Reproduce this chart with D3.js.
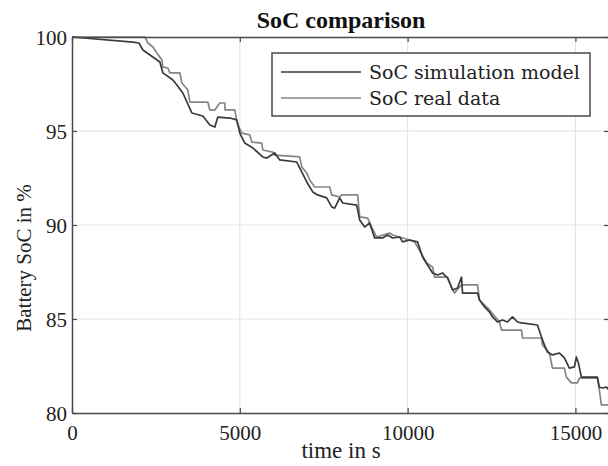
<!DOCTYPE html>
<html>
<head>
<meta charset="utf-8">
<script src="https://cdn.jsdelivr.net/npm/d3@7"></script>
<style>
  body { margin: 0; background: #fff; }
  svg { display: block; font-family: "Liberation Serif", "Times New Roman", serif; }
</style>
</head>
<body>
<svg width="608" height="466"></svg>
<script>
// ---- data ----
const simTime = [0, 1815, 1994, 2113, 2619, 2708, 3006, 3125, 3303, 3571, 3899, 4107, 4256, 4345, 4702, 4910,
  5000, 5148, 5387, 5684, 5803, 6041, 6190, 6696, 6845, 6994, 7172, 7321, 7589, 7738, 7827, 7976, 8065, 8482,
  8571, 8720, 8868, 9017, 9255, 9404, 9553, 9761, 9851, 10059, 10297, 10356, 10446, 10595, 10743, 10892, 11041,
  11190, 11339, 11487, 11606, 11636, 12083, 12142, 12291, 12440, 12529, 12678, 12827, 12975, 13124, 13273, 13392,
  13868, 13987, 14076, 14166, 14315, 14523, 14672, 14820, 14969, 15029, 15088, 15178, 15654, 15713, 15803, 15922, 16000];
const simSoc = [100, 99.73, 99.68, 99.31, 98.67, 98.09, 97.71, 97.45, 97.02, 95.96, 95.80, 95.32, 95.21, 95.74, 95.69, 95.59,
  94.89, 94.36, 94.10, 93.62, 93.56, 93.83, 93.46, 93.35, 92.82, 92.29, 91.76, 91.60, 91.44, 90.96, 90.90, 91.44, 91.17, 91.06,
  90.27, 89.89, 90.11, 89.31, 89.31, 89.47, 89.31, 89.36, 89.10, 89.20, 89.10, 88.78, 88.30, 87.87, 87.45, 87.34, 87.45,
  87.18, 86.54, 86.65, 87.23, 86.38, 86.38, 86.01, 85.64, 85.37, 85.11, 84.84, 84.95, 84.84, 85.11, 84.84, 84.79,
  84.68, 84.04, 83.62, 83.24, 83.09, 83.19, 82.93, 82.39, 82.45, 82.98, 82.66, 81.91, 81.91, 81.38, 81.33, 81.38, 81.22];

const realTime = [0, 2113, 2172, 2262, 2411, 2530, 2678, 2708, 2857, 2916, 3214, 3274, 3452, 3512, 4047, 4107, 4256,
  4404, 4553, 4560, 4851, 4910, 5059, 5297, 5357, 5654, 5684, 5982, 6041, 6785, 6845, 6994, 7083, 7232, 7678, 7738,
  7976, 8035, 8511, 8571, 8809, 8928, 9077, 9464, 9553, 10059, 10208, 10297, 10565, 10743, 10803, 11190, 11309, 11398,
  11547, 11606, 12083, 12142, 12440, 12737, 12797, 13392, 13422, 13987, 14017, 14225, 14315, 14672, 14731, 14880,
  15059, 15118, 15654, 15713, 15773, 16000];
const realSoc = [100, 100, 100, 99.68, 99.47, 99.15, 98.78, 98.40, 98.35, 98.09, 98.09, 97.55, 97.18, 96.54, 96.54, 96.12, 96.12,
  96.49, 96.49, 96.12, 96.12, 95.48, 94.89, 94.79, 94.41, 94.36, 93.99, 93.88, 93.72, 93.62, 93.09, 92.77, 92.39, 92.02, 92.02, 91.60,
  91.49, 91.60, 91.60, 90.43, 90.37, 89.89, 89.36, 89.57, 89.47, 89.20, 89.10, 88.83, 87.98, 87.77, 87.23, 87.23, 86.70, 86.38,
  86.70, 86.81, 86.81, 86.01, 85.48, 84.84, 84.41, 84.41, 83.99, 83.99, 83.62, 83.19, 82.39, 82.39, 81.91, 81.60,
  81.60, 81.86, 81.86, 81.22, 80.43, 80.43];

const xTicks = [0, 5000, 10000, 15000];
const yTicks = [80, 85, 90, 95, 100];
const seriesNames = ["SoC simulation model", "SoC real data"];
const seriesColors = ["#3a3a3a", "#858585"];

// ---- layout ----
const svg = d3.select("svg");
const mLeft = 72, mRight = 609, mTop = 37, mBottom = 413;

const x = d3.scaleLinear().domain([0, 16000]).range([mLeft, mRight]);
const y = d3.scaleLinear().domain([80, 100]).range([mBottom, mTop]);

// grid
svg.append("g").selectAll("line").data(xTicks.slice(1)).enter().append("line")
  .attr("x1", d => x(d)).attr("x2", d => x(d)).attr("y1", mTop).attr("y2", mBottom)
  .attr("stroke", "#e2e2e2").attr("stroke-width", 1);
svg.append("g").selectAll("line").data(yTicks.slice(1, -1)).enter().append("line")
  .attr("x1", mLeft).attr("x2", mRight).attr("y1", d => y(d)).attr("y2", d => y(d))
  .attr("stroke", "#e2e2e2").attr("stroke-width", 1);

// series
const series = [
  simTime.map((t, i) => [t, simSoc[i]]),
  realTime.map((t, i) => [t, realSoc[i]])
];
const line = d3.line().x(d => x(d[0])).y(d => y(d[1]));

svg.append("defs").append("clipPath").attr("id", "clip")
  .append("rect").attr("x", mLeft).attr("y", mTop - 1).attr("width", mRight - mLeft).attr("height", mBottom - mTop + 2);

svg.append("g").attr("clip-path", "url(#clip)")
  .selectAll("path").data([series[1], series[0]]).enter().append("path")
  .attr("d", line)
  .attr("fill", "none")
  .attr("stroke", (d, i) => i == 0 ? seriesColors[1] : seriesColors[0])
  .attr("stroke-width", 1.7)
  .attr("stroke-linejoin", "round");

// axes (MATLAB style, ticks pointing inward)
const axisColor = "#4a4a4a";
const xAxis = d3.axisBottom(x).tickValues(xTicks).tickSizeInner(-5).tickSizeOuter(0).tickPadding(12).tickFormat(d3.format("d"));
const yAxis = d3.axisLeft(y).tickValues(yTicks).tickSizeInner(-5).tickSizeOuter(0).tickPadding(5).tickFormat(d3.format("d"));

const gx = svg.append("g").attr("transform", `translate(0,${mBottom})`).call(xAxis);
const gy = svg.append("g").attr("transform", `translate(${mLeft},0)`).call(yAxis);
const gxTop = svg.append("g").attr("transform", `translate(0,${mTop})`)
  .call(d3.axisTop(x).tickValues(xTicks).tickSizeInner(-5).tickSizeOuter(0).tickFormat(""));
const gyRight = svg.append("g").attr("transform", `translate(${mRight + 1},0)`)
  .call(d3.axisRight(y).tickValues(yTicks).tickSizeInner(-6).tickSizeOuter(0).tickFormat(""));

[gx, gy, gxTop, gyRight].forEach(g => {
  g.select(".domain").attr("stroke", axisColor).attr("stroke-width", 1.5);
  g.selectAll(".tick line").attr("stroke", axisColor).attr("stroke-width", 1.2);
  g.selectAll("text").attr("fill", "#222").style("font-size", "21px")
    .style("font-family", "'Liberation Serif', serif");
});
gy.selectAll("text").attr("dy", "0.36em");

// titles
svg.append("text").attr("x", 341).attr("y", 28).attr("text-anchor", "middle")
  .style("font-size", "24px").style("font-weight", "bold").attr("fill", "#111")
  .text("SoC comparison");
svg.append("text").attr("x", 341).attr("y", 458).attr("text-anchor", "middle")
  .style("font-size", "23px").attr("fill", "#222").text("time in s");
svg.append("text").attr("transform", "translate(31,258) rotate(-90)").attr("text-anchor", "middle")
  .style("font-size", "21px").attr("fill", "#222").text("Battery SoC in %");

// legend
const legend = svg.append("g");
legend.append("rect").attr("x", 272).attr("y", 53).attr("width", 318).attr("height", 63)
  .attr("fill", "#fff").attr("stroke", axisColor).attr("stroke-width", 1.5);
const items = legend.selectAll(".legend").data(seriesNames).enter().append("g")
  .attr("class", "legend")
  .attr("transform", (d, i) => `translate(0,${72 + 26 * i})`);
items.append("line").attr("x1", 281).attr("x2", 361).attr("y1", 0).attr("y2", 0)
  .attr("stroke", (d, i) => seriesColors[i]).attr("stroke-width", 1.6);
items.append("text").attr("x", 369).attr("y", 7)
  .style("font-size", "19px").style("font-family", "'DejaVu Serif', serif").attr("fill", "#222")
  .text(d => d);
</script>
</body>
</html>
